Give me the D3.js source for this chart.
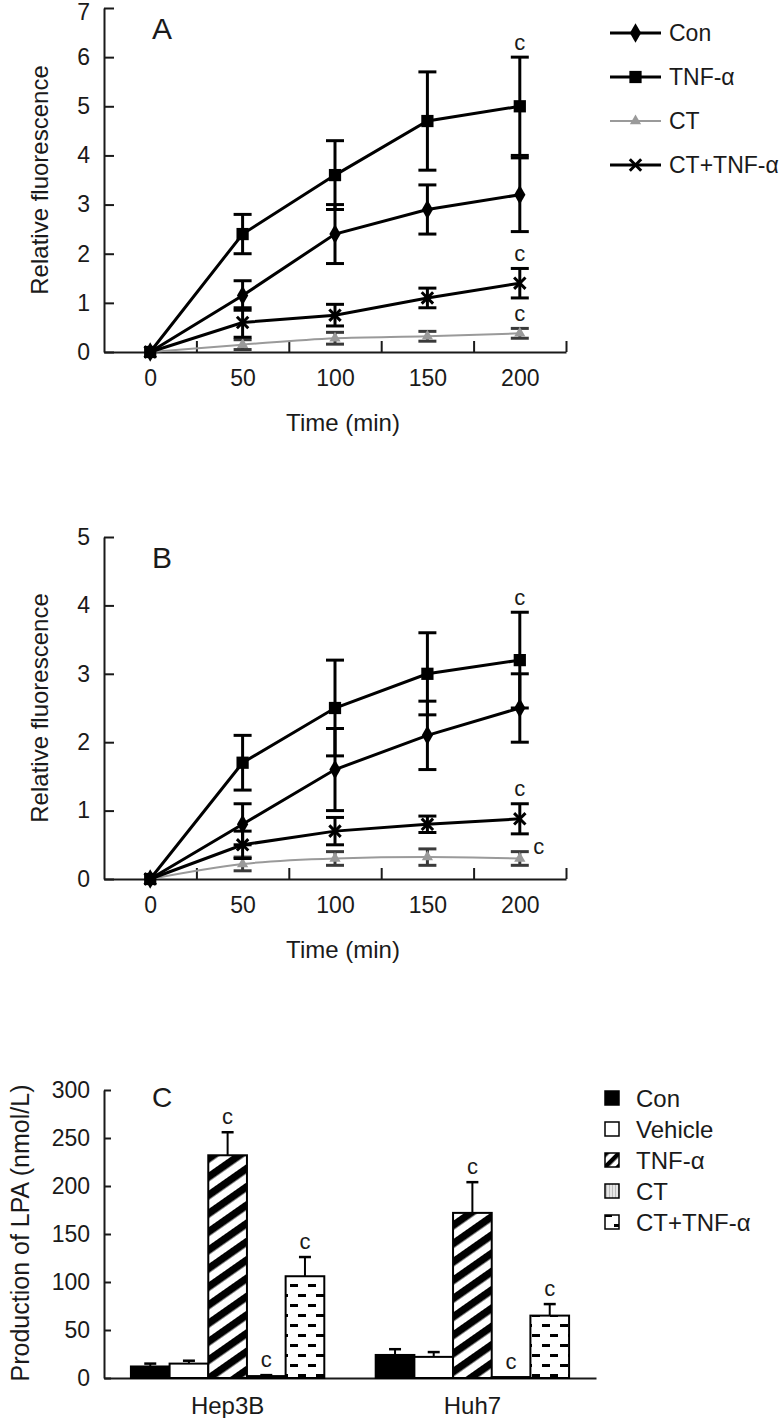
<!DOCTYPE html>
<html><head><meta charset="utf-8">
<script src="https://cdn.jsdelivr.net/npm/d3@7"></script>
<style>
html,body{margin:0;padding:0;background:#fff;}
svg{display:block;font-family:"Liberation Sans",Arial,sans-serif;}
</style></head><body>
<svg id="chart" width="781" height="1418"></svg>
<script>
// ---------- DATA ----------
const timePoints = [0, 50, 100, 150, 200];
const xTickLabels = ["0", "50", "100", "150", "200"];
const lineSeries = ["Con", "TNF-α", "CT", "CT+TNF-α"];

// Panel A
const aCon = [0, 1.15, 2.4, 2.9, 3.2];
const aConErr = [0, 0.3, 0.6, 0.5, 0.75];
const aTnf = [0, 2.4, 3.6, 4.7, 5.0];
const aTnfErr = [0, 0.4, 0.7, 1.0, 1.0];
const aCt = [0, 0.15, 0.28, 0.32, 0.38];
const aCtErr = [0, 0.1, 0.12, 0.1, 0.1];
const aCtTnf = [0, 0.6, 0.75, 1.1, 1.4];
const aCtTnfErr = [0, 0.3, 0.22, 0.2, 0.3];
const aYTicks = [0, 1, 2, 3, 4, 5, 6, 7];

// Panel B
const bCon = [0, 0.8, 1.6, 2.1, 2.5];
const bConErr = [0, 0.3, 0.6, 0.5, 0.5];
const bTnf = [0, 1.7, 2.5, 3.0, 3.2];
const bTnfErr = [0, 0.4, 0.7, 0.6, 0.7];
const bCt = [0, 0.22, 0.3, 0.32, 0.3];
const bCtErr = [0, 0.1, 0.1, 0.12, 0.1];
const bCtTnf = [0, 0.5, 0.7, 0.8, 0.88];
const bCtTnfErr = [0, 0.2, 0.2, 0.12, 0.22];
const bYTicks = [0, 1, 2, 3, 4, 5];

// Panel C
const groups = ["Hep3B", "Huh7"];
const barSeries = ["Con", "Vehicle", "TNF-α", "CT", "CT+TNF-α"];
const hep3bValues = [12, 15, 232, 2, 106];
const hep3bErr = [3, 3, 24, 1, 20];
const huh7Values = [24, 22, 172, 1, 65];
const huh7Err = [6, 5, 32, 0, 12];
const cYTicks = [0, 50, 100, 150, 200, 250, 300];
const cSig = ["TNF-α", "CT", "CT+TNF-α"];

// ---------- SETUP ----------
const svg = d3.select("#chart");
svg.append("rect").attr("width", 781).attr("height", 1418).attr("fill", "#fff");
const ink = "#1a1a1a";
const defs = svg.append("defs");

const stripes = defs.append("pattern").attr("id", "stripes")
  .attr("patternUnits", "userSpaceOnUse").attr("width", 15).attr("height", 15)
  .attr("patternTransform", "rotate(-35)");
stripes.append("rect").attr("width", 15).attr("height", 15).attr("fill", "#fff");
stripes.append("rect").attr("width", 15).attr("height", 7.5).attr("fill", "#000");

const stripesSm = defs.append("pattern").attr("id", "stripesSm")
  .attr("patternUnits", "userSpaceOnUse").attr("width", 9).attr("height", 9)
  .attr("patternTransform", "rotate(-45)");
stripesSm.append("rect").attr("width", 9).attr("height", 9).attr("fill", "#fff");
stripesSm.append("rect").attr("width", 9).attr("height", 4.5).attr("fill", "#000");

const dashes = defs.append("pattern").attr("id", "dashes")
  .attr("patternUnits", "userSpaceOnUse").attr("width", 18).attr("height", 20);
dashes.append("rect").attr("width", 18).attr("height", 20).attr("fill", "#fff");
dashes.append("rect").attr("x", 2).attr("y", 4).attr("width", 8).attr("height", 3).attr("fill", "#000");
dashes.append("rect").attr("x", 10).attr("y", 14).attr("width", 8).attr("height", 3).attr("fill", "#000");

const grid = defs.append("pattern").attr("id", "grid")
  .attr("patternUnits", "userSpaceOnUse").attr("width", 3).attr("height", 3);
grid.append("rect").attr("width", 3).attr("height", 3).attr("fill", "#e6e6e6");
grid.append("rect").attr("width", 1).attr("height", 3).attr("fill", "#bdbdbd");

function styleAxis(g, fs) {
  g.selectAll(".domain").attr("stroke", ink).attr("stroke-width", 2);
  g.selectAll(".tick line").attr("stroke", ink).attr("stroke-width", 2);
  g.selectAll("text").attr("fill", ink).attr("font-size", fs)
    .attr("font-family", "Liberation Sans, Arial, sans-serif");
}

const symX = {
  draw(ctx, size) {
    const r = Math.sqrt(size) / 2;
    ctx.moveTo(-r, -r); ctx.lineTo(r, r);
    ctx.moveTo(r, -r); ctx.lineTo(-r, r);
  }
};

const styles = {
  "Con": {type: d3.symbolDiamond, size: 110, color: "#000", width: 3, fill: true},
  "TNF-α": {type: d3.symbolSquare, size: 150, color: "#000", width: 3, fill: true},
  "CT": {type: d3.symbolTriangle, size: 55, color: "#9a9a9a", width: 2, fill: true},
  "CT+TNF-α": {type: symX, size: 130, color: "#000", width: 3, fill: false}
};

function linePanel(cfg) {
  const x = d3.scaleLinear().domain([-25, 225]).range([104, 566]);
  const y = d3.scaleLinear().domain([0, cfg.yMax]).range([cfg.yBottom, cfg.yTop]);
  const g = svg.append("g");

  const ya = g.append("g").attr("transform", `translate(${x(-25)},0)`)
    .call(d3.axisLeft(y).tickValues(cfg.yTicks).tickSizeInner(-10).tickSizeOuter(0).tickPadding(14).tickFormat(d3.format("d")));
  styleAxis(ya, 23);
  // keep the top tick label inside the picture
  ya.selectAll(".tick text").filter(d => y(d) < 12).attr("dy", "0.5em");

  const xa = g.append("g").attr("transform", `translate(0,${cfg.yBottom})`)
    .call(d3.axisBottom(x).tickValues([25, 75, 125, 175, 225]).tickSizeInner(-11).tickSizeOuter(0).tickFormat(""));
  styleAxis(xa, 23);
  const xl = g.append("g").attr("transform", `translate(0,${cfg.yBottom})`)
    .call(d3.axisBottom(x).tickValues(timePoints).tickSize(0).tickPadding(18).tickFormat((d, i) => xTickLabels[i]));
  xl.select(".domain").remove();
  styleAxis(xl, 23);

  g.append("text").attr("x", 343).attr("y", cfg.yBottom + 70)
    .attr("text-anchor", "middle").attr("dominant-baseline", "central")
    .attr("font-size", 24).attr("fill", ink).text("Time (min)");
  g.append("text").attr("transform", `translate(39,${(cfg.yTop + cfg.yBottom) / 2}) rotate(-90)`)
    .attr("text-anchor", "middle").attr("dominant-baseline", "central")
    .attr("font-size", 24).attr("fill", ink).text("Relative fluorescence");
  g.append("text").attr("x", 152).attr("y", cfg.yTop + 20)
    .attr("dominant-baseline", "central").attr("font-size", 30).attr("fill", ink).text(cfg.label);

  const order = ["CT", "Con", "TNF-α", "CT+TNF-α"];
  order.forEach(name => {
    const s = cfg.series[name];
    const st = styles[name];
    const pts = timePoints.map((t, i) => ({t, v: s.v[i], e: s.e[i]}));
    g.append("path").datum(pts)
      .attr("fill", "none").attr("stroke", st.color).attr("stroke-width", st.width)
      .attr("d", d3.line().x(d => x(d.t)).y(d => y(d.v))
        .curve(name === "CT" ? d3.curveMonotoneX : d3.curveLinear));
    const eb = g.append("g").attr("stroke", name === "CT" ? "#3a3a3a" : "#000").attr("stroke-width", 3);
    pts.filter(d => d.e > 0).forEach(d => {
      eb.append("line").attr("x1", x(d.t)).attr("x2", x(d.t)).attr("y1", y(d.v - d.e)).attr("y2", y(d.v + d.e));
      [d.v - d.e, d.v + d.e].forEach(v => {
        eb.append("line").attr("x1", x(d.t) - 9).attr("x2", x(d.t) + 9).attr("y1", y(v)).attr("y2", y(v));
      });
    });
    g.append("g").selectAll("path").data(pts).join("path")
      .attr("transform", d => `translate(${x(d.t)},${y(d.v)})`)
      .attr("d", d3.symbol().type(st.type).size(st.size))
      .attr("fill", st.fill ? st.color : "none")
      .attr("stroke", st.fill ? "none" : st.color)
      .attr("stroke-width", st.width);
  });

  cfg.sig.forEach(sg => {
    const s = cfg.series[sg.name];
    const i = timePoints.length - 1;
    const v = s.v[i], e = s.e[i];
    const tx = sg.right ? x(timePoints[i]) + 19 : x(timePoints[i]);
    const ty = sg.right ? y(v) - 12 : y(v + e) - 15;
    g.append("text").attr("x", tx).attr("y", ty).attr("text-anchor", "middle")
      .attr("dominant-baseline", "central").attr("font-size", 22).attr("fill", ink).text("c");
  });
}

linePanel({
  yTop: 8, yBottom: 352, yMax: 7, yTicks: aYTicks, label: "A",
  series: {
    "Con": {v: aCon, e: aConErr}, "TNF-α": {v: aTnf, e: aTnfErr},
    "CT": {v: aCt, e: aCtErr}, "CT+TNF-α": {v: aCtTnf, e: aCtTnfErr}
  },
  sig: [{name: "TNF-α"}, {name: "CT+TNF-α"}, {name: "CT"}]
});

linePanel({
  yTop: 537, yBottom: 879, yMax: 5, yTicks: bYTicks, label: "B",
  series: {
    "Con": {v: bCon, e: bConErr}, "TNF-α": {v: bTnf, e: bTnfErr},
    "CT": {v: bCt, e: bCtErr}, "CT+TNF-α": {v: bCtTnf, e: bCtTnfErr}
  },
  sig: [{name: "TNF-α"}, {name: "CT+TNF-α"}, {name: "CT", right: true}]
});

// Legend for line panels
const legA = svg.append("g");
lineSeries.forEach((name, i) => {
  const st = styles[name];
  const cy = 33 + i * 44;
  legA.append("line").attr("x1", 610).attr("x2", 661).attr("y1", cy).attr("y2", cy)
    .attr("stroke", st.color).attr("stroke-width", st.width);
  legA.append("path").attr("transform", `translate(635.5,${cy})`)
    .attr("d", d3.symbol().type(st.type).size(st.size))
    .attr("fill", st.fill ? st.color : "none").attr("stroke", st.fill ? "none" : st.color)
    .attr("stroke-width", st.width);
  legA.append("text").attr("x", 669).attr("y", cy).attr("dominant-baseline", "central")
    .attr("font-size", 23).attr("fill", ink).text(name);
});

// ---------- Panel C ----------
const cx0 = d3.scaleBand().domain(groups).range([104, 596]).paddingInner(0.21).paddingOuter(0.11);
const cx1 = d3.scaleBand().domain(barSeries).range([0, cx0.bandwidth()]);
const cy = d3.scaleLinear().domain([0, 300]).range([1378, 1090]);
const barFill = {"Con": "#000", "Vehicle": "#fff", "TNF-α": "url(#stripes)", "CT": "url(#grid)", "CT+TNF-α": "url(#dashes)"};
const legFill = {"Con": "#000", "Vehicle": "#fff", "TNF-α": "url(#stripesSm)", "CT": "url(#grid)", "CT+TNF-α": "url(#dashes)"};
const gC = svg.append("g");

const cya = gC.append("g").attr("transform", "translate(104,0)")
  .call(d3.axisLeft(cy).tickValues(cYTicks).tickSizeInner(-7).tickSizeOuter(0).tickPadding(14));
styleAxis(cya, 23);
const cxa = gC.append("g").attr("transform", "translate(0,1378)")
  .call(d3.axisBottom(cx0).tickSize(0).tickSizeOuter(0).tickPadding(19));
styleAxis(cxa, 24);

const groupData = [
  {g: "Hep3B", v: hep3bValues, e: hep3bErr},
  {g: "Huh7", v: huh7Values, e: huh7Err}
];
groupData.forEach(gd => {
  barSeries.forEach((s, i) => {
    const bx = cx0(gd.g) + cx1(s);
    const bw = cx1.bandwidth();
    const v = gd.v[i], e = gd.e[i];
    gC.append("rect").attr("x", bx).attr("y", cy(v)).attr("width", bw)
      .attr("height", cy(0) - cy(v)).attr("fill", barFill[s])
      .attr("stroke", "#000").attr("stroke-width", 2);
    const mx = bx + bw / 2;
    if (e > 0) {
      gC.append("line").attr("x1", mx).attr("x2", mx).attr("y1", cy(v)).attr("y2", cy(v + e))
        .attr("stroke", "#000").attr("stroke-width", 2);
      gC.append("line").attr("x1", mx - 6).attr("x2", mx + 6).attr("y1", cy(v + e)).attr("y2", cy(v + e))
        .attr("stroke", "#000").attr("stroke-width", 2.5);
    }
    if (cSig.includes(s)) {
      gC.append("text").attr("x", mx).attr("y", cy(v + e) - 16).attr("text-anchor", "middle")
        .attr("dominant-baseline", "central").attr("font-size", 22).attr("fill", ink).text("c");
    }
  });
});

gC.append("text").attr("x", 152).attr("y", 1097).attr("dominant-baseline", "central")
  .attr("font-size", 28).attr("fill", ink).text("C");
gC.append("text").attr("transform", "translate(20,1233) rotate(-90)")
  .attr("text-anchor", "middle").attr("dominant-baseline", "central")
  .attr("font-size", 25).attr("fill", ink).text("Production of LPA (nmol/L)");

barSeries.forEach((s, i) => {
  const ly = 1098 + i * 31;
  gC.append("rect").attr("x", 605).attr("y", ly - 7).attr("width", 14).attr("height", 14)
    .attr("fill", legFill[s]).attr("stroke", "#000").attr("stroke-width", 1.5);
  gC.append("text").attr("x", 636).attr("y", ly).attr("dominant-baseline", "central")
    .attr("font-size", 24).attr("fill", ink).text(s);
});
</script>
</body></html>
